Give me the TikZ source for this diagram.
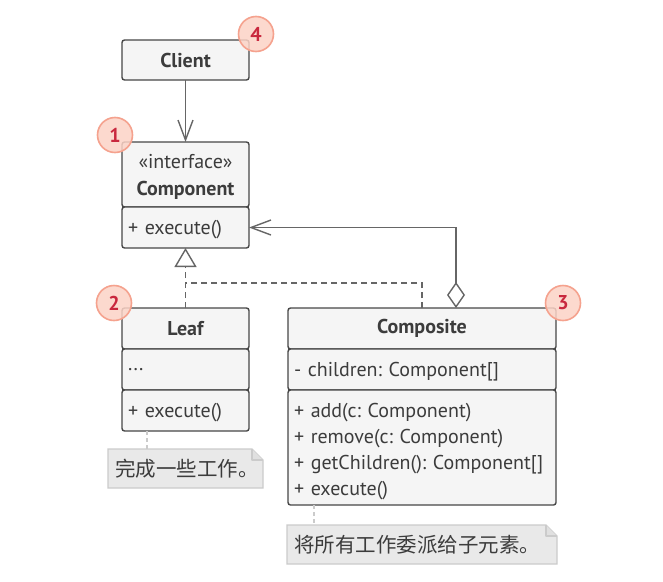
\documentclass[tikz,border=0pt]{standalone}
\usepackage{fontspec}
\setmainfont{PT Sans}
\newfontfamily\cjk{Noto Sans CJK SC}
\usetikzlibrary{arrows.meta,backgrounds}
\definecolor{rand}{HTML}{474747}
\definecolor{fuell}{HTML}{F5F5F5}
\definecolor{schrift}{HTML}{3C3C3C}
\definecolor{verbc}{HTML}{666666}
\definecolor{notizfuell}{HTML}{E9E9E9}
\definecolor{notizrand}{HTML}{CBCBCB}
\definecolor{markefuell}{HTML}{FCD3C6}
\definecolor{markerand}{HTML}{F5A28E}
\definecolor{markeschrift}{HTML}{C9283E}
\frenchspacing
\begin{document}
\begin{tikzpicture}[x=1pt,y=-1pt,
	kasten/.style={draw=rand,fill=fuell,line width=1.4pt,rounded corners=2.5pt,anchor=north west,inner sep=0pt,outer sep=0pt,text=schrift,font=\fontsize{20}{26}\selectfont},
	kopf/.style={kasten,minimum width=#1,font=\bfseries\fontsize{20}{27}\selectfont},
	liste/.style={kasten,align=left,text width=#1,inner xsep=6pt,text depth=0pt},
	verb/.style={draw=verbc,line width=1.4pt},
	notiz/.style={anchor=north west,inner xsep=7pt,inner ysep=0pt,outer sep=0pt,align=left,text=schrift,minimum height=39pt,text width=#1,font=\cjk\fontsize{20.5}{22}\selectfont},
	hilfslinie/.style={draw=notizrand,line width=1.4pt,dash pattern=on 4pt off 3pt},
	marke/.style={circle,minimum size=35pt,inner sep=0pt,draw=markerand,line width=1.6pt,fill=markefuell,fill opacity=0.85,text opacity=1,text=markeschrift,font=\bfseries\fontsize{20}{20}\selectfont}]
	\path[use as bounding box] (0,0) rectangle (663,581);
	%\draw[step=20,gray!20] (0,0) grid (663,581); %Raster zum Ausrichten
	\node[kopf=127pt,minimum height=40pt] (client) at (122,40) {Client};
	\node[kopf=127pt,minimum height=65pt,align=center,text depth=0pt] (komp) at (122,142) {\mdseries«interface»\\Component};
	\node[liste=115pt,minimum height=41pt] (kompm) at (komp.south west) {+ execute()};
	\node[kopf=127pt,minimum height=41pt] (leaf) at (122,308) {Leaf};
	\node[liste=115pt,minimum height=41pt] (leafa) at (leaf.south west) {...};
	\node[liste=115pt,minimum height=41pt] (leafm) at (leafa.south west) {+ execute()};
	\node[kopf=268pt,minimum height=41pt] (comp) at (288,308) {Composite};
	\node[liste=256pt,minimum height=41pt] (compa) at (comp.south west) {- children: Component[]};
	\node[liste=256pt,minimum height=115pt,text depth=74pt] (compm) at (compa.south west) {+ add(c: Component)\\+ remove(c: Component)\\+ getChildren(): Component[]\\+ execute()};
	\def\knick{11pt}
	\node[notiz=141pt] (notiz1) at (108,449) {完成一些工作。};
	\node[notiz=256pt] (notiz2) at (287,525) {将所有工作委派给子元素。};
	\begin{scope}[on background layer]
		\fill[white] (0,0) rectangle (663,581);
		\foreach \n in {notiz1,notiz2} {
			\filldraw[notizrand,fill=notizfuell,line width=1.4pt] (\n.north west) -- ([xshift=-\knick]\n.north east) -- ([yshift=-\knick]\n.north east) -- (\n.south east) -- (\n.south west) -- cycle;
			\filldraw[notizrand,fill=notizrand!60,line width=1.4pt,line join=round] ([xshift=-\knick]\n.north east) -- ([xshift=-\knick,yshift=-\knick]\n.north east) -- ([yshift=-\knick]\n.north east);
		}
	\end{scope}
	\draw[hilfslinie] ([xshift=25pt]leafm.south west) -- ([xshift=25pt]leafm.south west |- notiz1.north);
	\draw[hilfslinie] ([xshift=26pt]compm.south west) -- ([xshift=26pt]compm.south west |- notiz2.north);
	% Verbindungen
	\draw[verb,-{Straight Barb[length=20pt,width=15pt]}] (client) -- (komp);
	\coordinate (gabel) at (leaf.north |- 0,283);
	\draw[verb,dash pattern=on 6pt off 4pt,-{Triangle[length=19pt,width=22pt,fill=white]}] (leaf) -- (kompm);
	\draw[verb,dash pattern=on 6pt off 4pt] ([xshift=134pt]comp.north west) |- (gabel);
	\draw[verb,{Diamond[length=26pt,width=18pt,fill=white]}-{Straight Barb[length=20pt,width=15pt]}] ([xshift=168pt]comp.north west) |- (kompm.east);
	% Nummern
	\node[marke] (m4) at (256,34) {4};
	\node[marke] (m1) at (115,135) {1};
	\node[marke] (m2) at (114,303) {2};
	\node[marke] (m3) at (563,303) {3};
\end{tikzpicture}
\end{document}
